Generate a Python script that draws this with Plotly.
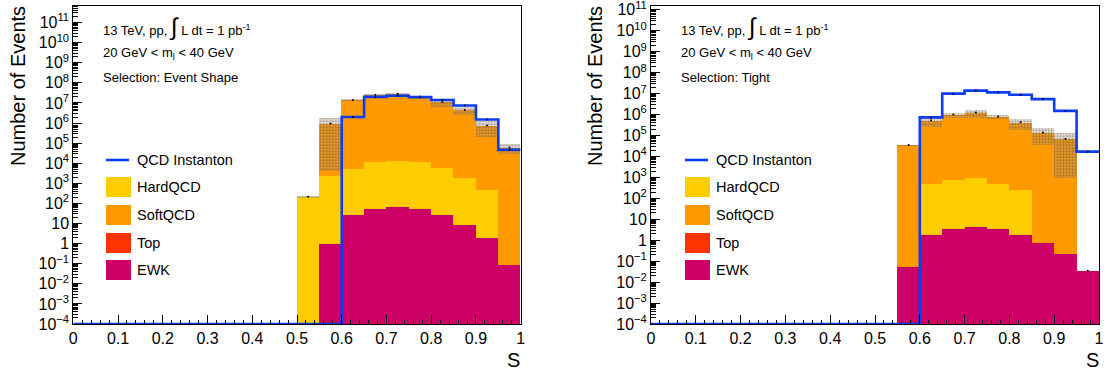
import plotly.graph_objects as go

W, H = 1106, 376

# ---------------- data ----------------
BIN_EDGES = [0.00, 0.05, 0.10, 0.15, 0.20, 0.25, 0.30, 0.35, 0.40, 0.45,
             0.50, 0.55, 0.60, 0.65, 0.70, 0.75, 0.80, 0.85, 0.90, 0.95, 1.00]
X_TICKS = [0, 0.1, 0.2, 0.3, 0.4, 0.5, 0.6, 0.7, 0.8, 0.9, 1.0]
X_TICK_TEXT = ["0", "0.1", "0.2", "0.3", "0.4", "0.5", "0.6", "0.7", "0.8", "0.9", "1"]
Y_TICK_EXP = [-4, -3, -2, -1, 0, 1, 2, 3, 4, 5, 6, 7, 8, 9, 10, 11]

# Left panel: Selection: Event Shape
L_EWK = [0, 0, 0, 0, 0, 0, 0, 0, 0, 0,
         0, 1.0, 29, 55, 71, 52, 26, 9, 2, 0.09]
L_TOP = [0] * 20
L_HARD = [0, 0, 0, 0, 0, 0, 0, 0, 0, 0,
          215, 2400, 5070, 11950, 13930, 11950, 5770, 1990, 468, 0]
L_SOFT = [0, 0, 0, 0, 0, 0, 0, 0, 0, 0,
          0, 9.47e5, 1.4e7, 2.5e7, 2.9e7, 2.1e7, 1.1e7, 4.5e6, 7.5e5, 6.0e4]
L_ERR = [0, 0, 0, 0, 0, 0, 0, 0, 0, 0,
         15, 9.45e5, 1.5e6, 5.0e6, 3.5e6, 2.5e6, 4.2e6, 2.0e6, 5.5e5, 3.0e4]
L_INST = [0, 0, 0, 0, 0, 0, 0, 0, 0, 0,
          0, 0, 2.0e6, 2.0e7, 2.3e7, 1.95e7, 1.4e7, 7.5e6, 1.5e6, 4.7e4]

# Right panel: Selection: Tight
R_EWK = [0, 0, 0, 0, 0, 0, 0, 0, 0, 0,
         0, 0.055, 1.9, 3.5, 4.6, 3.4, 1.9, 0.8, 0.24, 0.035]
R_TOP = [0] * 20
R_HARD = [0, 0, 0, 0, 0, 0, 0, 0, 0, 0,
          0, 0, 518, 736, 995, 517, 248, 0, 0, 0]
R_SOFT = [0, 0, 0, 0, 0, 0, 0, 0, 0, 0,
          0, 3.5e4, 5.3e5, 1.0e6, 1.25e6, 8.2e5, 4.3e5, 1.4e5, 6.8e4, 0]
R_ERR = [0, 0, 0, 0, 0, 0, 0, 0, 0, 0,
         0, 2.0e3, 2.8e5, 2.7e5, 5.2e5, 2.0e5, 2.4e5, 1.05e5, 6.7e4, 0]
R_INST = [0, 0, 0, 0, 0, 0, 0, 0, 0, 0,
          0, 0, 7.4e5, 1.0e7, 1.4e7, 1.15e7, 8.9e6, 5.5e6, 1.5e6, 1.7e4]

SELECTIONS = ["Event Shape", "Tight"]

# ---------------- style ----------------
C_HARD = "#ffcc00"
C_SOFT = "#ff9900"
C_TOP = "#ff3300"
C_EWK = "#cc0066"
C_INST = "#0a3cf5"
FONT = "Liberation Sans, Arial, Helvetica, sans-serif"
YMIN_EXP = -4
Y_TOP_EXP = [11.84, 11.2]

X_DOM = [[73.3 / W, 520.7 / W], [651.0 / W, 1099.0 / W]]
Y_DOM = [1 - 324.0 / H, 1 - 5.7 / H]

centers = [(BIN_EDGES[i] + BIN_EDGES[i + 1]) / 2 for i in range(20)]
width = [BIN_EDGES[i + 1] - BIN_EDGES[i] for i in range(20)]


def nz(v):
    return [x if x > 0 else None for x in v]


fig = go.Figure()


def add_panel(k, ewk, top, hard, soft, err, inst):
    xa = "x" if k == 0 else "x2"
    ya = "y" if k == 0 else "y2"
    c_top = [a + b for a, b in zip(ewk, top)]
    c_hard = [a + b for a, b in zip(c_top, hard)]
    c_soft = [a + b for a, b in zip(c_hard, soft)]
    for vals, col, name in [(c_soft, C_SOFT, "SoftQCD"), (c_hard, C_HARD, "HardQCD"),
                            (c_top, C_TOP, "Top"), (ewk, C_EWK, "EWK")]:
        fig.add_trace(go.Bar(x=centers, y=nz(vals), width=width, xaxis=xa, yaxis=ya,
                             marker=dict(color=col, line=dict(width=0)),
                             name=name, showlegend=False, hoverinfo="skip"))
    # uncertainty band (hatched)
    floor = 10 ** (YMIN_EXP - 1)
    base, span = [], []
    for t, e in zip(c_soft, err):
        if e > 0 and t > 0:
            lo = max(t - e, floor)
            base.append(lo)
            span.append(t + e - lo)
        else:
            base.append(None)
            span.append(None)
    fig.add_trace(go.Bar(x=centers, y=span, base=base, width=width, xaxis=xa, yaxis=ya,
                         marker=dict(color="rgba(0,0,0,0)", line=dict(width=0),
                                     pattern=dict(shape=".", size=3, solidity=0.4,
                                                  fgcolor="rgba(80,60,40,0.45)",
                                                  bgcolor="rgba(170,150,130,0.3)",
                                                  fillmode="replace")),
                         showlegend=False, hoverinfo="skip"))
    # small bin markers on stack total
    fig.add_trace(go.Scatter(x=centers, y=nz(c_soft), mode="markers", xaxis=xa, yaxis=ya,
                             marker=dict(color="black", size=2), showlegend=False,
                             hoverinfo="skip"))
    # QCD instanton step line
    ymin = 10 ** YMIN_EXP
    xs = list(BIN_EDGES)
    ys = [max(v, ymin) for v in inst] + [max(inst[-1], ymin)]
    fig.add_trace(go.Scatter(x=xs, y=ys, mode="lines", line=dict(color=C_INST, width=2.6, shape="hv"),
                             xaxis=xa, yaxis=ya, showlegend=False, hoverinfo="skip",
                             cliponaxis=False))
    fig.add_trace(go.Scatter(x=centers, y=nz(inst), mode="markers", xaxis=xa, yaxis=ya,
                             marker=dict(color="black", size=2), showlegend=False,
                             hoverinfo="skip"))


add_panel(0, L_EWK, L_TOP, L_HARD, L_SOFT, L_ERR, L_INST)
add_panel(1, R_EWK, R_TOP, R_HARD, R_SOFT, R_ERR, R_INST)


def ytext(e):
    if e == 0:
        return "1"
    if e == 1:
        return "10"
    s = str(e).replace("-", "\u2212")
    return "10<sup>" + s + "</sup>"


axis_common = dict(showline=True, linecolor="black", linewidth=1, mirror=True,
                   ticks="inside", tickcolor="black", showgrid=False, zeroline=False,
                   automargin=False, ticklabeloverflow="allow",
                   tickfont=dict(family=FONT, size=16, color="black"))

layout = dict(width=W, height=H, margin=dict(l=0, r=0, t=0, b=0, autoexpand=False),
              paper_bgcolor="white", plot_bgcolor="white",
              barmode="overlay", bargap=0, showlegend=False,
              font=dict(family=FONT, color="black"))

for k in range(2):
    sx = "" if k == 0 else "2"
    layout["xaxis" + sx] = dict(axis_common, domain=X_DOM[k], range=[0, 1],
                                anchor="y" + sx, tickmode="array", tickvals=X_TICKS,
                                ticktext=X_TICK_TEXT, ticklen=9,
                                minor=dict(ticks="inside", ticklen=4.5, dtick=0.02,
                                           tickcolor="black", showgrid=False))
    layout["yaxis" + sx] = dict(axis_common, domain=Y_DOM, type="log",
                                range=[YMIN_EXP, Y_TOP_EXP[k]], anchor="x" + sx,
                                tickmode="array", tickvals=[10 ** e for e in Y_TICK_EXP],
                                ticktext=[ytext(e) for e in Y_TICK_EXP], ticklen=9,
                                minor=dict(ticks="inside", ticklen=4.5, dtick="D1",
                                           tickcolor="black", showgrid=False))

fig.update_layout(**layout)

# ---------------- annotations & legend ----------------
def px(x):
    return x / W


def py(y):
    return 1 - y / H


ann = []
shapes = []
for k, (title_x, txt_x, leg_x) in enumerate([(18, 101, 106), (595, 679, 685)]):
    ann.append(dict(x=px(title_x), y=py(86), xref="paper", yref="paper",
                    text="Number of Events", textangle=-90, showarrow=False,
                    xanchor="center", yanchor="middle", font=dict(size=20)))
    ann.append(dict(x=px(txt_x), y=py(27), xref="paper", yref="paper",
                    text="13 TeV, pp, <span style='font-size:24px'>\u222b</span> L dt = 1 pb<sup>-1</sup>",
                    showarrow=False, xanchor="left", yanchor="middle", font=dict(size=13)))
    ann.append(dict(x=px(txt_x), y=py(53), xref="paper", yref="paper",
                    text="20 GeV &lt; m<sub>l</sub> &lt; 40 GeV",
                    showarrow=False, xanchor="left", yanchor="middle", font=dict(size=13)))
    ann.append(dict(x=px(txt_x), y=py(78), xref="paper", yref="paper",
                    text="Selection: " + SELECTIONS[k],
                    showarrow=False, xanchor="left", yanchor="middle", font=dict(size=13)))
    xr = X_DOM[k][1] * W
    ann.append(dict(x=px(xr - 7), y=py(360), xref="paper", yref="paper", text="S",
                    showarrow=False, xanchor="center", yanchor="middle", font=dict(size=20)))
    # legend
    shapes.append(dict(type="line", xref="paper", yref="paper",
                       x0=px(leg_x), x1=px(leg_x + 23), y0=py(160), y1=py(160),
                       line=dict(color=C_INST, width=2.6)))
    ann.append(dict(x=px(leg_x + 29), y=py(160), xref="paper", yref="paper",
                    text="QCD Instanton", showarrow=False, xanchor="left", yanchor="middle",
                    font=dict(size=14.5)))
    for name, col, yc in [("HardQCD", C_HARD, 187), ("SoftQCD", C_SOFT, 215),
                          ("Top", C_TOP, 243), ("EWK", C_EWK, 270)]:
        shapes.append(dict(type="rect", xref="paper", yref="paper",
                           x0=px(leg_x), x1=px(leg_x + 25), y0=py(yc + 10), y1=py(yc - 10),
                           fillcolor=col, line=dict(width=0)))
        ann.append(dict(x=px(leg_x + 29), y=py(yc), xref="paper", yref="paper",
                        text=name, showarrow=False, xanchor="left", yanchor="middle",
                        font=dict(size=14.5)))

fig.update_layout(annotations=ann, shapes=shapes)
fig.write_html("out.html")
